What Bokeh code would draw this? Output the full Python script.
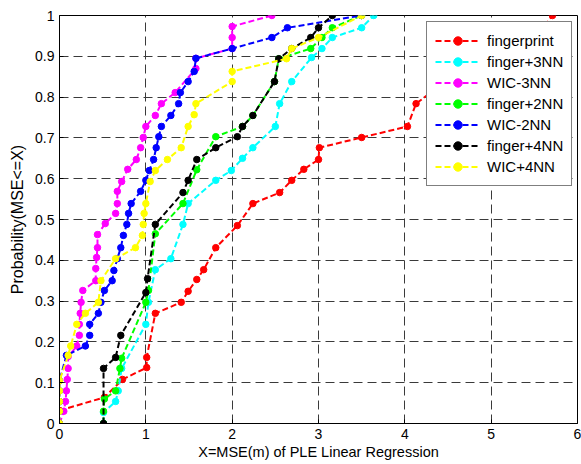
from bokeh.plotting import figure
from bokeh.models import Range1d, FixedTicker, Legend, LegendItem
from bokeh.embed import file_html
from bokeh.resources import INLINE

# ---- data ----
series_names = ["fingerprint", "finger+3NN", "WIC-3NN", "finger+2NN", "WIC-2NN", "finger+4NN", "WIC+4NN"]
series_colors = ["#ff0000", "#00ffff", "#ff00ff", "#00ff00", "#0000ff", "#000000", "#ffff00"]

fingerprint_x = [0.0, 0.52, 0.73, 1.01, 1.01, 1.11, 1.41, 1.49, 1.59, 1.67, 1.81, 2.06, 2.24, 2.55, 2.69, 2.83, 3.0, 3.01, 3.5, 4.03, 4.13, 4.3, 4.6, 4.9, 5.2, 5.45, 5.6, 5.71]
fingerprint_y = [0.032, 0.064, 0.108, 0.137, 0.162, 0.27, 0.297, 0.324, 0.353, 0.377, 0.431, 0.485, 0.539, 0.566, 0.596, 0.623, 0.647, 0.676, 0.701, 0.728, 0.784, 0.811, 0.838, 0.865, 0.892, 0.919, 0.97, 1.0]

finger3nn_x = [0.51, 0.51, 0.65, 0.68, 0.72, 1.0, 1.03, 1.11, 1.29, 1.43, 1.49, 1.81, 1.99, 2.12, 2.24, 2.5, 2.55, 2.69, 2.92, 3.04, 3.16, 3.5, 3.64]
finger3nn_y = [0.0, 0.027, 0.054, 0.08, 0.135, 0.243, 0.297, 0.377, 0.404, 0.488, 0.539, 0.596, 0.62, 0.65, 0.676, 0.728, 0.784, 0.838, 0.897, 0.919, 0.946, 0.97, 1.0]

wic3nn_x = [0.0, 0.05, 0.07, 0.08, 0.09, 0.1, 0.1, 0.2, 0.23, 0.23, 0.24, 0.25, 0.27, 0.42, 0.42, 0.43, 0.44, 0.44, 0.53, 0.65, 0.67, 0.67, 0.72, 0.79, 0.89, 0.94, 0.97, 1.0, 1.11, 1.18, 1.34, 1.58, 1.58, 2.0, 2.0, 2.0, 2.46]
wic3nn_y = [0.0, 0.03, 0.054, 0.08, 0.108, 0.135, 0.164, 0.19, 0.216, 0.243, 0.27, 0.297, 0.326, 0.35, 0.38, 0.407, 0.431, 0.463, 0.49, 0.515, 0.539, 0.569, 0.593, 0.623, 0.647, 0.676, 0.701, 0.728, 0.755, 0.784, 0.811, 0.87, 0.895, 0.919, 0.946, 0.973, 1.0]

finger2nn_x = [0.51, 0.51, 0.52, 0.65, 0.7, 0.72, 1.0, 1.03, 1.11, 1.43, 1.59, 1.81, 2.12, 2.24, 2.49, 2.54, 2.91, 3.04, 3.16, 3.5]
finger2nn_y = [0.0, 0.03, 0.06, 0.08, 0.135, 0.16, 0.297, 0.326, 0.465, 0.539, 0.622, 0.703, 0.728, 0.755, 0.838, 0.894, 0.919, 0.946, 0.97, 1.0]

wic2nn_x = [0.0, 0.0, 0.0, 0.0, 0.0, 0.08, 0.3, 0.35, 0.35, 0.45, 0.48, 0.52, 0.61, 0.63, 0.67, 0.71, 0.74, 0.78, 0.8, 0.83, 0.94, 1.0, 1.04, 1.09, 1.12, 1.15, 1.18, 1.29, 1.38, 1.4, 1.49, 1.56, 1.58, 2.0, 2.46, 2.64, 3.5]
wic2nn_y = [0.0, 0.03, 0.054, 0.08, 0.105, 0.167, 0.19, 0.216, 0.243, 0.27, 0.297, 0.326, 0.35, 0.375, 0.404, 0.431, 0.461, 0.488, 0.515, 0.539, 0.569, 0.596, 0.62, 0.647, 0.676, 0.703, 0.728, 0.755, 0.784, 0.811, 0.838, 0.863, 0.895, 0.919, 0.946, 0.97, 1.0]

finger4nn_x = [0.51, 0.51, 0.65, 0.71, 1.0, 1.02, 1.11, 1.43, 1.49, 1.59, 1.81, 2.06, 2.12, 2.24, 2.49, 2.54, 2.69, 2.91, 3.0, 3.16]
finger4nn_y = [0.0, 0.135, 0.162, 0.216, 0.321, 0.355, 0.488, 0.566, 0.596, 0.647, 0.676, 0.703, 0.728, 0.755, 0.838, 0.894, 0.919, 0.946, 0.97, 1.0]

wic4nn_x = [0.0, 0.0, 0.0, 0.0, 0.0, 0.1, 0.13, 0.2, 0.3, 0.45, 0.48, 0.65, 0.88, 0.96, 0.97, 0.98, 1.0, 1.05, 1.11, 1.25, 1.41, 1.49, 1.56, 1.58, 2.0, 2.0, 2.63, 2.69, 3.0, 3.5]
wic4nn_y = [0.0, 0.03, 0.054, 0.08, 0.105, 0.167, 0.19, 0.243, 0.27, 0.297, 0.35, 0.404, 0.431, 0.461, 0.488, 0.515, 0.539, 0.593, 0.62, 0.647, 0.676, 0.728, 0.757, 0.784, 0.838, 0.863, 0.894, 0.919, 0.946, 1.0]

series_x = [fingerprint_x, finger3nn_x, wic3nn_x, finger2nn_x, wic2nn_x, finger4nn_x, wic4nn_x]
series_y = [fingerprint_y, finger3nn_y, wic3nn_y, finger2nn_y, wic2nn_y, finger4nn_y, wic4nn_y]

x_ticks = [0, 1, 2, 3, 4, 5, 6]
y_ticks = [0, 0.1, 0.2, 0.3, 0.4, 0.5, 0.6, 0.7, 0.8, 0.9, 1]
y_tick_labels = ["0", "0.1", "0.2", "0.3", "0.4", "0.5", "0.6", "0.7", "0.8", "0.9", "1"]

FONT = "Liberation Sans"

p = figure(width=581, height=464, output_backend="svg", toolbar_location=None,
           x_range=Range1d(0, 6), y_range=Range1d(0, 1),
           min_border_left=59, min_border_right=4, min_border_top=15, min_border_bottom=41)
p.background_fill_color = "white"
p.border_fill_color = "white"
p.outline_line_color = "black"
p.outline_line_width = 1
p.outline_line_alpha = 1

p.xaxis.ticker = FixedTicker(ticks=x_ticks)
p.yaxis.ticker = FixedTicker(ticks=y_ticks)
p.yaxis.major_label_overrides = {t: l for t, l in zip(y_ticks, y_tick_labels)}
p.xaxis.major_label_overrides = {t: str(t) for t in x_ticks}

for ax in (p.xaxis, p.yaxis):
    ax.axis_line_color = "black"
    ax.major_tick_in = 4
    ax.major_tick_out = 0
    ax.minor_tick_in = 0
    ax.minor_tick_out = 0
    ax.major_tick_line_color = "black"
    ax.major_label_text_font = FONT
    ax.major_label_text_font_size = "14px"
    ax.major_label_text_color = "black"
    ax.axis_label_text_font = FONT
    ax.axis_label_text_font_style = "normal"
    ax.axis_label_text_color = "black"

p.xaxis.axis_label = "X=MSE(m) of PLE Linear Regression"
p.xaxis.axis_label_text_font_size = "14.5px"
p.xaxis.major_label_standoff = 5
p.xaxis.axis_label_standoff = 2
p.yaxis.axis_label = "Probability(MSE<=X)"
p.yaxis.axis_label_text_font_size = "16px"
p.yaxis.major_label_standoff = 5
p.yaxis.axis_label_standoff = 6

for g in (p.xgrid, p.ygrid):
    g.grid_line_color = "#3a3a3a"
    g.grid_line_dash = "9 5"
    g.grid_line_width = 1

items = []
for name, color, xs, ys in zip(series_names, series_colors, series_x, series_y):
    r1 = p.line(xs, ys, line_color=color, line_width=2, line_dash="6 3")
    r2 = p.scatter(xs, ys, marker="circle", size=6.5, fill_color=color, line_color=color)
    items.append(LegendItem(label=name, renderers=[r1, r2]))

legend = Legend(items=items, location=(367, 237))
legend.label_text_font = FONT
legend.label_text_font_size = "15px"
legend.label_text_color = "black"
legend.glyph_width = 45
legend.glyph_height = 21
legend.label_height = 21
legend.label_standoff = 7
legend.spacing = 0
legend.padding = 8
legend.margin = 0
legend.border_line_color = "black"
legend.border_line_width = 1
legend.background_fill_color = "white"
legend.background_fill_alpha = 1
p.add_layout(legend, "center")

open("out.html", "w").write(file_html(p, INLINE))
